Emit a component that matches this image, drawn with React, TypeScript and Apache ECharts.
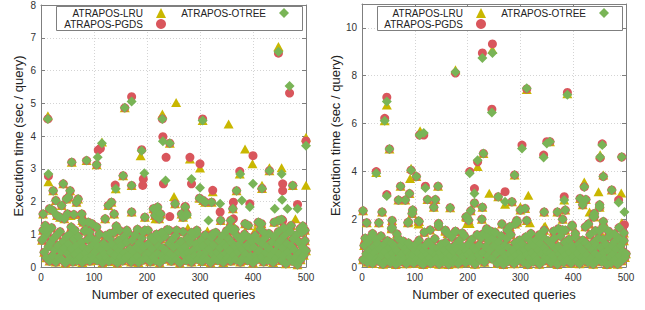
import React, { useEffect, useRef } from "react";
import * as echarts from "echarts";

const seriesNames = ["ATRAPOS-LRU", "ATRAPOS-PGDS", "ATRAPOS-OTREE"];
const xTitle = "Number of executed queries";
const yTitle = "Execution time (sec / query)";
const xMin = 0;
const xMax = 500;
const xInterval = 100;
const leftYMax = 8;
const leftYInterval = 1;
const rightYMax = 11;
const rightYInterval = 2;

// low-range times shared by the three strategies, queries 2, 4, ..., 500
const leftBulk = [
  0.82, 1.12, 0.45, 0.95, 0.28, 1.05, 0.62, 0.18, 0.74, 1.2, 0.35, 0.88, 0.52, 0.15, 0.98, 0.66, 0.3, 1.08, 0.48, 0.22, 0.78, 0.58, 0.12, 0.92, 0.4,
  0.7, 0.25, 1.02, 0.55, 0.16, 0.85, 0.38, 0.64, 0.2, 0.94, 0.5, 0.3, 0.76, 0.14, 0.6, 1.1, 0.42, 0.24, 0.84, 0.56, 0.18, 0.9, 0.34, 0.68, 0.26,
  0.46, 0.8, 0.2, 0.62, 1.0, 0.32, 0.54, 0.13, 0.72, 0.4, 0.96, 0.27, 0.6, 0.17, 0.86, 0.44, 0.7, 0.22, 1.06, 0.36, 0.58, 0.12, 0.8, 0.5, 0.3,
  0.66, 0.19, 0.92, 0.43, 0.28, 0.76, 1.04, 0.35, 0.55, 0.15, 0.82, 0.48, 0.24, 0.98, 0.62, 0.33, 0.14, 0.74, 0.52, 0.88, 0.21, 0.6, 1.12, 0.38, 0.26,
  0.7, 0.45, 0.16, 0.9, 0.56, 0.3, 0.8, 0.2, 1.0, 0.42, 0.64, 0.13, 0.86, 0.34, 0.58, 0.24, 0.94, 0.5, 1.14, 0.28, 0.72, 0.4, 0.18, 0.84, 0.6,
  0.32, 0.96, 0.22, 0.68, 0.46, 0.12, 0.78, 0.54, 1.08, 0.36, 0.62, 0.2, 0.88, 0.44, 0.27, 0.74, 0.15, 0.92, 0.52, 0.34, 0.7, 1.02, 0.24, 0.58, 0.4,
  0.82, 0.17, 0.64, 0.3, 0.98, 0.48, 0.23, 0.76, 0.56, 0.13, 0.9, 0.38, 0.66, 0.26, 1.05, 0.45, 0.2, 0.8, 0.58, 0.32, 0.95, 0.14, 0.7, 0.42, 0.6,
  0.28, 0.86, 0.5, 0.18, 0.74, 1.1, 0.36, 0.62, 0.22, 0.94, 0.46, 0.7, 0.15, 0.84, 0.54, 0.3, 1.0, 0.4, 0.66, 0.2, 0.9, 0.58, 0.33, 0.78, 0.12,
  0.6, 0.96, 0.38, 0.24, 0.8, 0.5, 1.15, 0.3, 0.7, 0.16, 0.88, 0.44, 0.62, 0.21, 1.02, 0.54, 0.35, 0.76, 0.14, 0.92, 0.48, 0.27, 0.68, 1.08, 0.4,
  0.82, 0.2, 0.58, 0.34, 0.96, 0.1, 0.72, 0.46, 1.12, 0.28, 0.64, 0.18, 0.86, 0.52, 0.3, 0.98, 0.07, 0.76, 0.42, 0.22, 1.05, 0.6, 0.36, 0.8, 0.5,
];

// [query, seconds] points where the three strategies coincide
const leftShared = [
  [4, 1.62], [8, 1.27], [11, 1.17], [16, 1.78], [22, 1.73], [23, 2.33], [28, 2.03], [30, 1.57], [36, 1.52], [39, 1.88],
  [42, 2.54], [44, 1.47], [48, 2.08], [50, 1.62], [52, 2.13], [55, 2.33], [57, 1.22], [58, 3.2], [62, 1.6], [67, 1.98],
  [70, 2.08], [77, 1.62], [78, 1.42], [80, 1.37], [85, 1.12], [86, 3.25], [89, 1.37], [92, 1.07], [96, 1.32], [105, 3.12],
  [105, 1.22], [121, 1.47], [127, 1.88], [133, 1.98], [138, 1.62], [148, 1.12], [155, 2.79], [158, 4.86], [162, 1.12], [171, 2.49],
  [171, 1.68], [193, 1.07], [196, 1.52], [212, 1.78], [215, 1.57], [218, 1.73], [220, 1.83], [223, 1.47], [226, 1.62], [243, 3.78],
  [253, 1.93], [256, 1.12], [265, 1.62], [268, 1.52], [272, 1.83], [275, 1.62], [294, 1.12], [299, 2.1], [306, 2.03], [310, 1.98],
  [322, 1.98], [339, 1.42], [357, 1.22], [358, 1.42], [362, 1.78], [369, 2.33], [385, 1.32], [391, 1.27], [410, 1.37], [416, 1.32],
  [417, 2.4], [431, 2.94], [440, 1.37], [448, 1.42], [454, 1.45], [472, 1.27], [475, 2.49], [489, 1.17], [498, 1.12],
  [64, 1.12], [130, 1.02], [142, 1.25], [182, 1.15], [202, 1.12], [228, 1.05], [242, 1.12], [284, 1.05], [325, 1.02], [350, 1.1],
  [366, 1.15], [420, 1.05], [458, 1.2], [470, 1.08], [494, 1.25],
];

const leftLru = [
  [13, 4.62], [14, 2.6], [56, 1.57], [115, 3.82], [141, 2.39], [173, 0.9], [188, 3.4], [216, 1.47], [229, 4.67], [251, 2.15],
  [255, 5.02], [277, 1.19], [281, 3.3], [300, 3.02], [305, 4.47], [314, 1.1], [324, 2.3], [354, 4.37], [375, 2.84], [385, 3.6],
  [385, 1.07], [399, 3.15], [404, 1.12], [417, 2.5], [431, 3.03], [448, 6.73], [454, 3.03], [480, 1.47], [500, 3.96], [500, 2.5],
];

const leftPgds = [
  [13, 4.52], [14, 2.78], [108, 3.57], [112, 3.62], [140, 2.5], [171, 5.2], [190, 3.58], [193, 2.69], [192, 2.49], [229, 4.52],
  [230, 3.98], [231, 2.54], [236, 3.35], [243, 1.54], [272, 1.85], [281, 3.35], [284, 2.54], [300, 3.15], [305, 4.52], [324, 2.34],
  [338, 1.68], [363, 1.98], [363, 1.47], [375, 2.92], [394, 1.93], [400, 3.4], [448, 6.53], [456, 2.54], [456, 2.33], [456, 1.42],
  [456, 1.12], [469, 5.31], [484, 1.91], [500, 3.85],
];

const leftOtree = [
  [13, 4.52], [14, 2.84], [107, 3.35], [115, 3.78], [141, 2.39], [171, 5.05], [190, 3.55], [195, 2.86], [229, 4.52], [230, 3.84],
  [235, 2.64], [275, 1.57], [284, 2.69], [300, 2.42], [305, 4.47], [316, 1.42], [338, 1.93], [376, 2.84], [379, 2.03], [394, 1.83],
  [400, 2.54], [441, 1.78], [448, 6.57], [454, 2.84], [455, 2.05], [465, 1.78], [469, 5.53], [484, 1.78], [500, 3.7],
];

const rightBulk = [
  0.3, 0.9, 1.2, 0.55, 0.2, 1.05, 0.7, 0.42, 1.28, 0.15, 0.85, 0.6, 1.15, 0.35, 0.98, 0.25, 0.75, 1.3, 0.5, 0.12, 0.95, 0.65, 0.28, 1.1, 0.45,
  0.8, 0.18, 1.0, 0.58, 0.35, 0.88, 0.1, 0.68, 1.2, 0.4, 0.22, 0.92, 0.55, 1.08, 0.3, 0.75, 0.14, 0.62, 1.0, 0.45, 0.26, 0.85, 0.5, 0.16, 0.72,
  0.95, 0.33, 0.6, 1.12, 0.2, 0.8, 0.46, 0.1, 0.7, 0.9, 0.28, 0.52, 1.05, 0.38, 0.15, 0.66, 0.85, 0.24, 1.18, 0.5, 0.36, 0.78, 0.12, 0.6, 0.95,
  0.42, 0.22, 0.7, 1.02, 0.3, 0.56, 0.1, 0.82, 0.48, 1.25, 0.2, 0.64, 0.9, 0.34, 0.75, 0.14, 1.1, 0.58, 0.28, 0.86, 0.44, 1.3, 0.18, 0.68, 0.52,
  0.96, 0.26, 0.62, 1.15, 0.4, 0.8, 0.12, 0.7, 1.35, 0.5, 0.92, 0.3, 1.22, 0.6, 1.4, 0.2, 0.85, 1.3, 0.45, 1.1, 0.7, 1.5, 0.35, 1.2, 0.9,
  1.42, 0.55, 0.15, 1.05, 0.75, 0.3, 1.3, 0.62, 0.1, 0.9, 0.46, 1.18, 0.24, 0.8, 0.58, 1.35, 0.35, 0.7, 0.14, 1.0, 0.5, 0.88, 0.28, 1.12, 0.64,
  0.4, 0.95, 0.2, 0.72, 1.25, 0.52, 0.1, 0.84, 0.36, 1.08, 0.6, 0.22, 0.9, 0.46, 1.15, 0.3, 0.7, 0.12, 0.98, 0.55, 1.28, 0.26, 0.8, 0.42, 0.65,
  1.1, 0.34, 0.6, 0.18, 0.92, 0.48, 1.2, 0.28, 0.75, 0.1, 0.86, 0.54, 1.3, 0.38, 0.68, 0.2, 1.02, 0.5, 0.82, 0.3, 1.15, 0.62, 0.16, 0.9, 0.44,
  0.72, 1.25, 0.26, 0.58, 0.95, 0.14, 0.8, 0.4, 1.12, 0.66, 0.3, 1.0, 0.5, 0.2, 0.86, 1.35, 0.36, 0.7, 0.12, 1.05, 0.56, 0.9, 0.28, 1.2, 0.46,
  0.82, 0.22, 1.15, 0.6, 0.34, 0.95, 0.1, 0.7, 1.28, 0.42, 0.18, 0.88, 0.54, 1.05, 0.3, 0.76, 0.12, 1.2, 0.48, 0.9, 0.26, 0.65, 1.1, 0.4, 0.55,
];

const rightShared = [
  [2, 2.35], [9, 1.85], [32, 1.85], [38, 2.3], [52, 4.94], [56, 1.6], [57, 1.95], [57, 1.65], [69, 2.8], [73, 3.38],
  [82, 2.8], [87, 1.85], [88, 1.88], [90, 3.07], [95, 2.24], [96, 2.38], [103, 3.78], [107, 1.92], [108, 1.9], [124, 2.82],
  [129, 1.55], [136, 2.5], [139, 2.82], [144, 3.38], [145, 1.82], [145, 1.7], [158, 1.54], [158, 1.5], [162, 1.4], [167, 2.48],
  [177, 1.47], [177, 1.5], [197, 2.1], [199, 2.07], [202, 1.95], [206, 2.35], [213, 2.68], [227, 2.0], [228, 2.5], [230, 4.75],
  [252, 1.45], [258, 2.94], [265, 1.8], [275, 1.55], [280, 1.68], [284, 2.73], [289, 3.85], [290, 1.8], [293, 1.95], [294, 1.87],
  [300, 2.38], [309, 2.45], [312, 1.95], [345, 2.3], [345, 1.54], [356, 5.24], [363, 1.5], [370, 2.3], [372, 1.6], [380, 2.0],
  [380, 1.55], [385, 2.38], [385, 1.54], [398, 1.75], [398, 1.7], [413, 2.87], [418, 2.6], [423, 1.68], [424, 2.82], [429, 1.8],
  [438, 2.1], [440, 2.24], [440, 2.1], [442, 1.52], [450, 2.6], [450, 2.5], [450, 1.52], [457, 1.9], [457, 1.68], [467, 1.5],
  [473, 3.22], [487, 1.65],
  [20, 1.4], [66, 1.38], [118, 1.45], [190, 1.42], [236, 1.6], [320, 1.4], [336, 1.35], [404, 1.4], [478, 1.38], [496, 1.42],
];

const rightLru = [
  [27, 3.95], [43, 6.12], [47, 6.78], [91, 3.7], [93, 4.13], [107, 1.8], [110, 5.7], [177, 8.25], [199, 1.82], [204, 1.82],
  [219, 4.2], [241, 3.08], [247, 9.1], [271, 2.62], [300, 2.52], [312, 7.42], [315, 3.0], [318, 1.85], [345, 1.68], [347, 1.7],
  [383, 2.8], [389, 7.25], [407, 1.1], [421, 3.55], [429, 1.85], [431, 2.3], [448, 3.15], [451, 4.7], [457, 3.85], [491, 3.1],
  [492, 1.85],
];

const rightPgds = [
  [27, 3.99], [43, 6.22], [47, 7.1], [47, 3.03], [93, 4.05], [109, 5.52], [117, 5.52], [120, 3.38], [177, 8.11], [204, 3.99],
  [213, 3.28], [219, 4.4], [228, 8.95], [246, 6.6], [247, 9.33], [271, 3.15], [303, 5.1], [312, 7.45], [344, 4.68], [350, 5.24],
  [383, 2.94], [389, 7.3], [421, 3.35], [451, 4.56], [455, 5.15], [457, 3.78], [486, 2.8], [492, 4.6], [497, 1.77],
];

const rightOtree = [
  [27, 3.92], [43, 6.12], [47, 6.92], [47, 2.97], [93, 4.05], [109, 5.52], [117, 5.6], [120, 3.3], [177, 8.16], [204, 3.92],
  [213, 3.07], [219, 4.47], [228, 8.74], [246, 6.46], [247, 8.95], [271, 2.73], [303, 4.96], [312, 7.48], [344, 4.58], [350, 5.17],
  [383, 2.8], [389, 7.2], [421, 3.35], [451, 4.6], [455, 5.1], [457, 3.78], [486, 2.7], [492, 4.6], [497, 2.3],
];

const FONT = "'Liberation Sans', Arial, Helvetica, sans-serif";
const COLORS = ["#c9b700", "#d9565c", "#79b456"];
const SYMBOLS = ["triangle", "circle", "diamond"];
const SYMBOL_SIZES: any[] = [[10, 9], 9, 10];
const FRAME = "#7f7f7f";

function buildPoints(bulk: number[], shared: number[][], own: number[][]) {
  return [...bulk.map((y, i) => [(i + 1) * 2, y]), ...shared, ...own];
}

function axisPair(gridIndex: number, max: number, interval: number) {
  const common = {
    type: "value",
    gridIndex,
    axisLine: { show: true, onZero: false, lineStyle: { color: FRAME, width: 1 } },
    axisTick: { show: true, inside: true, length: 4, lineStyle: { color: FRAME } },
  };
  const x = [
    {
      ...common,
      position: "bottom",
      min: xMin,
      max: xMax,
      interval: xInterval,
      name: xTitle,
      nameLocation: "middle",
      nameGap: 21,
      nameTextStyle: { fontFamily: FONT, fontSize: 13, color: "#222" },
      axisLabel: { fontFamily: FONT, fontSize: 10, color: "#333", margin: 5 },
      splitLine: { show: true, lineStyle: { color: "#d4d4d4", type: [1, 2], width: 1 } },
    },
    {
      ...common,
      position: "top",
      min: xMin,
      max: xMax,
      interval: xInterval,
      axisLabel: { show: false },
      splitLine: { show: false },
    },
  ];
  const y = [
    {
      ...common,
      position: "left",
      min: 0,
      max,
      interval,
      name: yTitle,
      nameLocation: "middle",
      nameGap: 16,
      nameTextStyle: { fontFamily: FONT, fontSize: 13, color: "#222" },
      axisLabel: {
        fontFamily: FONT,
        fontSize: 10,
        color: "#333",
        margin: 5,
        formatter: (v: number) => (v % interval === 0 ? String(v) : ""),
      },
      splitLine: { show: true, lineStyle: { color: "#d4d4d4", type: [1, 2], width: 1 } },
    },
    {
      ...common,
      position: "right",
      min: 0,
      max,
      interval,
      axisLabel: { show: false },
      splitLine: { show: false },
    },
  ];
  return { x, y };
}

function legendItem(name: string, icon: string, right: number, top: number) {
  return {
    data: [name],
    right,
    top,
    padding: 0,
    align: "right",
    orient: "horizontal",
    itemWidth: 10,
    itemHeight: 10,
    icon,
    selectedMode: false,
    textStyle: { fontFamily: FONT, fontSize: 10, color: "#222", padding: [0, 8, 0, 0] },
  };
}

export default function App() {
  const ref = useRef<HTMLDivElement>(null);

  useEffect(() => {
    if (!ref.current) return;
    const chart = echarts.init(ref.current, undefined, { renderer: "svg" });

    const leftAxes = axisPair(0, leftYMax, leftYInterval);
    const rightAxes = axisPair(1, rightYMax, rightYInterval);

    const leftData = [
      buildPoints(leftBulk, leftShared, leftLru),
      buildPoints(leftBulk, leftShared, leftPgds),
      buildPoints(leftBulk, leftShared, leftOtree),
    ];
    const rightData = [
      buildPoints(rightBulk, rightShared, rightLru),
      buildPoints(rightBulk, rightShared, rightPgds),
      buildPoints(rightBulk, rightShared, rightOtree),
    ];

    const series: any[] = [];
    [leftData, rightData].forEach((sets, g) => {
      sets.forEach((data, k) => {
        series.push({
          type: "scatter",
          name: seriesNames[k],
          xAxisIndex: g * 2,
          yAxisIndex: g * 2,
          symbol: SYMBOLS[k],
          symbolSize: SYMBOL_SIZES[k],
          itemStyle: { color: COLORS[k], opacity: 1 },
          silent: true,
          data,
        });
      });
    });

    chart.setOption({
      animation: false,
      backgroundColor: "#ffffff",
      textStyle: { fontFamily: FONT },
      grid: [
        { left: 41, top: 4, width: 265, height: 263, containLabel: false },
        { left: 362, top: 4, width: 264, height: 263, containLabel: false },
      ],
      xAxis: [...leftAxes.x, ...rightAxes.x],
      yAxis: [...leftAxes.y, ...rightAxes.y],
      legend: [
        legendItem(seriesNames[0], "triangle", 645 - 166, 8),
        legendItem(seriesNames[1], "circle", 645 - 166, 19),
        legendItem(seriesNames[2], "diamond", 645 - 289, 8),
        legendItem(seriesNames[0], "triangle", 645 - 486, 8),
        legendItem(seriesNames[1], "circle", 645 - 486, 19),
        legendItem(seriesNames[2], "diamond", 645 - 609, 8),
      ],
      graphic: {
        elements: [
          {
            type: "rect",
            z: 3,
            shape: { x: 56.5, y: 6.5, width: 246, height: 24 },
            style: { fill: "#ffffff", stroke: FRAME, lineWidth: 1 },
          },
          {
            type: "rect",
            z: 3,
            shape: { x: 377.5, y: 6.5, width: 245, height: 24 },
            style: { fill: "#ffffff", stroke: FRAME, lineWidth: 1 },
          },
        ],
      },
      series,
    });

    return () => chart.dispose();
  }, []);

  return (
    <div
      ref={ref}
      style={{ position: "absolute", left: 0, top: 0, width: 645, height: 310 }}
    />
  );
}
